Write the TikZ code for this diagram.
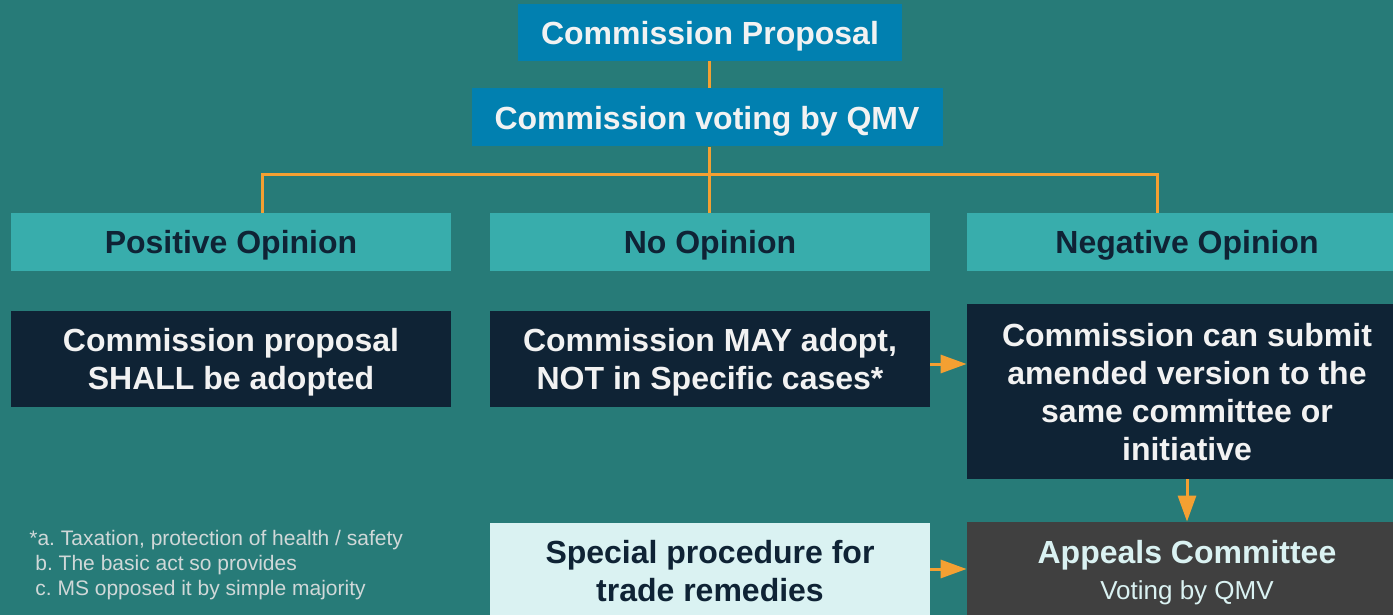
\documentclass[tikz,border=0pt]{standalone}
\usepackage{fontspec}
\setmainfont{Liberation Sans}
\usetikzlibrary{arrows.meta}

\definecolor{bgteal}{HTML}{277B78}
\definecolor{headblue}{HTML}{0180B0}
\definecolor{opinionteal}{HTML}{38ADAC}
\definecolor{navy}{HTML}{0F2335}
\definecolor{appealgrey}{HTML}{404040}
\definecolor{paleteal}{HTML}{DAF2F2}
\definecolor{linkorange}{HTML}{F4A032}
\definecolor{notegrey}{HTML}{D0D8D8}

\begin{document}
\frenchspacing
\begin{tikzpicture}[x=0.5pt,y=-0.5pt,
  box/.style={inner sep=0pt,minimum width=220pt,align=center,text depth=0pt,
    font=\fontsize{16}{19}\selectfont\bfseries},
  headbox/.style={box,fill=headblue,text=white!95!black,minimum height=29pt},
  opinionbox/.style={box,fill=opinionteal,text=navy,minimum height=29pt},
  outcomebox/.style={box,fill=navy,text=white!95!black,minimum height=48pt},
  link/.style={draw=linkorange,line width=1.5pt},
  arrowlink/.style={link,-{Triangle[length=13pt,width=9pt]}}]
  \fill[bgteal] (0,0) rectangle (1393,615);
  \useasboundingbox (0,0) rectangle (1393,615);

  \node[headbox,minimum width=192pt,minimum height=28.5pt] (prop) at (710,32.5) {Commission Proposal};
  \node[headbox,minimum width=235.5pt] (vote) at (707,117.5) {Commission voting by QMV};

  \node[opinionbox] (pos) at (231,242) {Positive Opinion};
  \node[opinionbox] (noop) at (710,242) {No Opinion};
  \node[opinionbox] (neg) at (1187,242) {Negative Opinion};

  \node[outcomebox] (adopt) at (231,359) {Commission proposal\\SHALL be adopted};
  \node[outcomebox] (may) at (710,359) {Commission MAY adopt,\\NOT in Specific cases*};
  \node[outcomebox,minimum height=87.5pt] (amend) at (1187,391.5) {Commission can submit\\amended version to the\\same committee or\\initiative};

  \node[box,fill=paleteal,text=navy,minimum height=48pt] (special) at (710,571) {Special procedure for\\trade remedies};
  \node[box,fill=appealgrey,text=paleteal,minimum height=48pt] (appeals) at (1187,570)
    {Appeals Committee\\[-1pt]{\fontsize{13}{15}\selectfont\mdseries Voting by QMV}};

  % footnote for the specific cases
  \node[anchor=north west,inner sep=0pt,align=left,text=notegrey,
    font=\fontsize{10.5}{12.5}\selectfont] (note) at (29,530)
    {*a. Taxation, protection of health / safety\\
     \hspace*{3pt}b. The basic act so provides\\
     \hspace*{3pt}c. MS opposed it by simple majority};

  \draw[link] (prop.south -| 709,0) -- (vote.north -| 709,0);
  \draw[link] (vote.south -| 709,0) -- (noop.north -| 709,0);
  \draw[link] ([xshift=15.5pt]pos.north) -- ++(0,-38) -| ([xshift=-15pt]neg.north);
  \draw[arrowlink] ([yshift=-2.5pt]may.east) -- ([yshift=-2.5pt]may.east -| amend.west);
  \draw[arrowlink] (amend.south) -- (appeals.north);
  \draw[arrowlink] ([yshift=1pt]special.east) -- ([yshift=1pt]special.east -| appeals.west);
\end{tikzpicture}
\end{document}
